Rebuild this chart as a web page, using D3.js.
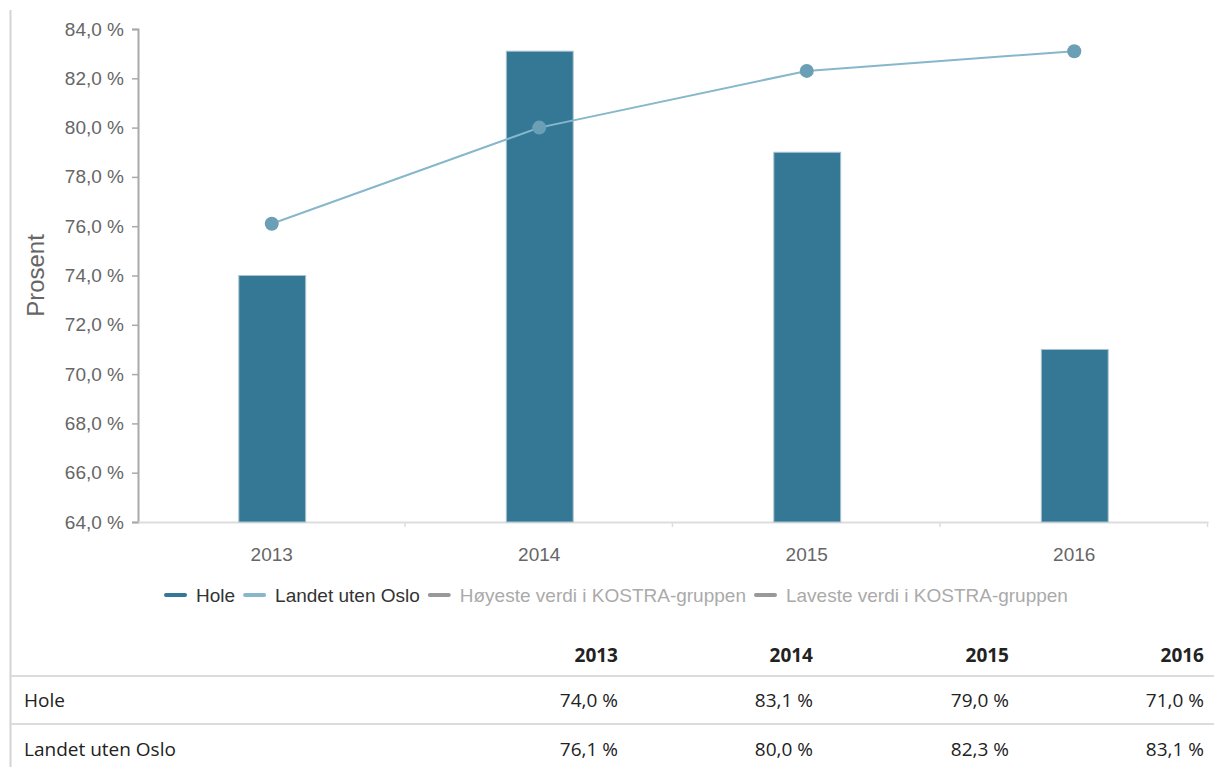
<!DOCTYPE html>
<html>
<head>
<meta charset="utf-8">
<script src="https://cdn.jsdelivr.net/npm/d3@7"></script>
<style>
  html, body { margin: 0; padding: 0; background: #fff; }
  svg { display: block; }
</style>
</head>
<body>
<svg id="chart" width="1214" height="767"></svg>
<script>
const years = ["2013", "2014", "2015", "2016"];
const holeValues = [74.0, 83.1, 79.0, 71.0];
const landetValues = [76.1, 80.0, 82.3, 83.1];
const yTicks = [64, 66, 68, 70, 72, 74, 76, 78, 80, 82, 84];
const seriesNames = ["Hole", "Landet uten Oslo"];
const legendNames = ["Hole", "Landet uten Oslo", "Høyeste verdi i KOSTRA-gruppen", "Laveste verdi i KOSTRA-gruppen"];

const svg = d3.select("#chart");
const fmt = v => v.toFixed(1).replace(".", ",") + " %";

const margin = { left: 138, right: 1208, top: 29, bottom: 522 };
const x = d3.scaleBand().domain(years).range([margin.left, margin.right]).paddingInner(0).paddingOuter(0);
const y = d3.scaleLinear().domain([64, 84]).range([margin.bottom, margin.top]);

const barColor = "#347896";
const lineColor = "#87b7cb";
const markerColor = "#6a9fb5";
const axisText = "#666666";
const sans = "'Liberation Sans', Arial, sans-serif";

// left frame line
svg.append("line").attr("x1", 10.5).attr("x2", 10.5).attr("y1", 10).attr("y2", 767)
  .attr("stroke", "#d4d4d4").attr("stroke-width", 2);

// y axis
const yAxis = d3.axisLeft(y).tickValues(yTicks).tickFormat(fmt).tickSize(6).tickPadding(8);
const gy = svg.append("g").attr("transform", `translate(${margin.left},0)`).call(yAxis);
gy.select(".domain").attr("stroke", "#aaaaaa").attr("stroke-width", 2);
gy.selectAll(".tick line").attr("stroke", "#aaaaaa").attr("stroke-width", 1.5);
gy.selectAll(".tick text").attr("fill", axisText).style("font-family", sans).style("font-size", "19px");

// x axis
const xAxis = d3.axisBottom(x).tickSize(0).tickPadding(26);
const gx = svg.append("g").attr("transform", `translate(0,${margin.bottom})`).call(xAxis);
gx.select(".domain").attr("stroke", "#dddddd").attr("stroke-width", 2);
gx.selectAll(".tick text").attr("fill", axisText).style("font-family", sans).style("font-size", "19px");
// boundary ticks
const bounds = years.map(d => x(d)).concat([x(years[years.length - 1]) + x.bandwidth()]);
svg.append("g").selectAll("line").data(bounds.slice(1)).join("line")
  .attr("x1", d => d - 0.5).attr("x2", d => d - 0.5)
  .attr("y1", margin.bottom).attr("y2", margin.bottom + 5)
  .attr("stroke", "#dddddd").attr("stroke-width", 1.5);

// y axis title
svg.append("text")
  .attr("transform", `translate(44,${(margin.top + margin.bottom) / 2}) rotate(-90)`)
  .attr("text-anchor", "middle")
  .attr("fill", axisText)
  .style("font-family", sans)
  .style("font-size", "24px")
  .text("Prosent");

// bars
const barW = x.bandwidth() * 0.25;
svg.append("g").selectAll("rect").data(years).join("rect")
  .attr("x", d => x(d) + x.bandwidth() / 2 - barW / 2 + 0.5)
  .attr("y", (d, i) => y(holeValues[i]))
  .attr("width", barW)
  .attr("height", (d, i) => y(64) - y(holeValues[i]))
  .attr("fill", barColor)
  .attr("stroke", "#a9c3d0")
  .attr("stroke-width", 1);

// line
const cx = (d, i) => x(years[i]) + x.bandwidth() / 2;
const line = d3.line().x(cx).y(d => y(d));
svg.append("path").datum(landetValues)
  .attr("d", line).attr("fill", "none").attr("stroke", lineColor).attr("stroke-width", 2);
svg.append("g").selectAll("circle").data(landetValues).join("circle")
  .attr("cx", cx)
  .attr("cy", d => y(d))
  .attr("r", 7)
  .attr("fill", markerColor);

// legend
const legendColors = [barColor, lineColor, "#999999", "#999999"];
const legendTextColors = ["#333333", "#333333", "#aaaaaa", "#aaaaaa"];
const legend = svg.append("g").style("font-family", sans).style("font-size", "19px");
let lx = 164;
legendNames.forEach((name, i) => {
  legend.append("rect").attr("x", lx).attr("y", 593).attr("width", 23).attr("height", 4).attr("rx", 2)
    .attr("fill", legendColors[i]);
  const t = legend.append("text").attr("x", lx + 32).attr("y", 602).attr("fill", legendTextColors[i]).text(name);
  const w = t.node().getComputedTextLength();
  lx += 32 + w + 8;
});

// table
const table = svg.append("g").style("font-family", "'Open Sans', sans-serif").style("font-size", "19px");
const colRight = [618, 813, 1009, 1204];
years.forEach((yr, i) => {
  table.append("text").attr("x", colRight[i]).attr("y", 662).attr("text-anchor", "end")
    .attr("fill", "#222").style("font-weight", "bold").text(yr);
});
[676, 724].forEach(yy => {
  table.append("line").attr("x1", 11).attr("x2", 1214).attr("y1", yy).attr("y2", yy)
    .attr("stroke", "#dcdcdc").attr("stroke-width", 2);
});
const rows = [holeValues, landetValues];
const rowY = [707, 756];
rows.forEach((vals, r) => {
  table.append("text").attr("x", 24).attr("y", rowY[r]).attr("fill", "#222").text(seriesNames[r]);
  vals.forEach((v, i) => {
    table.append("text").attr("x", colRight[i]).attr("y", rowY[r]).attr("text-anchor", "end")
      .attr("fill", "#222").text(fmt(v));
  });
});
</script>
</body>
</html>
